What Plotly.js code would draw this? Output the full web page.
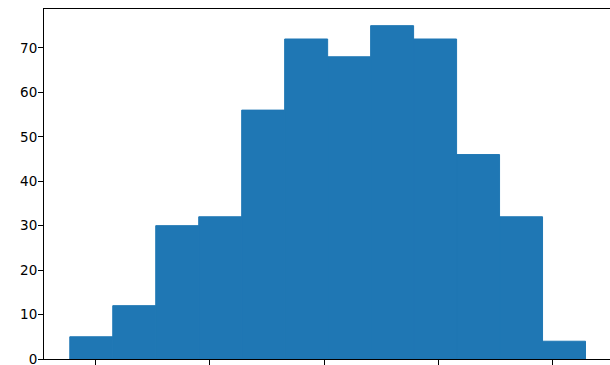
<!DOCTYPE html>
<html>
<head>
<meta charset="utf-8">
<script src="https://cdn.plot.ly/plotly-3.0.1.min.js"></script>
<style>
  html, body { margin: 0; padding: 0; background: #fff; overflow: hidden; }
  #chart { width: 610px; height: 365px; }
</style>
</head>
<body>
<div id="chart"></div>
<script>
// Histogram bin edges (13 edges -> 12 bins) and the count in each bin
const binEdges = [-2.226, -1.850, -1.474, -1.098, -0.722, -0.346, 0.030,
                  0.406, 0.782, 1.158, 1.534, 1.910, 2.286];
const counts = [5, 12, 30, 32, 56, 72, 68, 75, 72, 46, 32, 4];
const xTicks = [-2, -1, 0, 1, 2];
const yTicks = [0, 10, 20, 30, 40, 50, 60, 70];

// Bars sit edge to edge: centre and width come from consecutive edges
const centers = counts.map((_, i) => (binEdges[i] + binEdges[i + 1]) / 2);
const widths = counts.map((_, i) => binEdges[i + 1] - binEdges[i]);

// 5% padding on each side of the data span, like a default histogram view
const span = binEdges[binEdges.length - 1] - binEdges[0];
const xLo = binEdges[0] - 0.05 * span;
const plotLeft = 44, figW = 610;
// the full axes box is ~567 px wide, so it runs just past the page's right edge
const fullW = 567.3;
const xHi = xLo + (span * 1.1) * (figW - plotLeft) / fullW;
const yHi = Math.max(...counts) * 1.05;

const barColor = '#1f77b4';
const trace = {
  type: 'bar',
  x: centers,
  y: counts,
  width: widths,
  // an outline in the fill colour closes the seams between adjacent bars
  marker: { color: barColor, line: { width: 1, color: barColor } },
  hoverinfo: 'x+y'
};

const font = { family: 'DejaVu Sans, sans-serif', size: 13.5, color: '#000' };

const layout = {
  width: 610,
  height: 365,
  margin: { l: plotLeft, r: 0, t: 9, b: 6, pad: 0 },
  paper_bgcolor: '#fff',
  plot_bgcolor: '#fff',
  showlegend: false,
  font: font,
  xaxis: {
    range: [xLo, xHi],
    tickmode: 'array',
    tickvals: xTicks,
    showticklabels: false,
    ticks: 'outside',
    ticklen: 5,
    tickwidth: 1,
    tickcolor: '#000',
    showline: true,
    linecolor: '#000',
    linewidth: 1,
    mirror: true,
    showgrid: false,
    zeroline: false
  },
  yaxis: {
    range: [0, yHi],
    tickmode: 'array',
    tickvals: yTicks,
    ticks: 'outside',
    ticklen: 5,
    tickwidth: 1,
    tickcolor: '#000',
    tickfont: font,
    ticklabeloverflow: 'allow',
    ticklabelstandoff: -2,
    showline: true,
    linecolor: '#000',
    linewidth: 1,
    mirror: false,
    showgrid: false,
    zeroline: false
  }
};

Plotly.newPlot('chart', [trace], layout, { staticPlot: true, displayModeBar: false });
</script>
</body>
</html>
